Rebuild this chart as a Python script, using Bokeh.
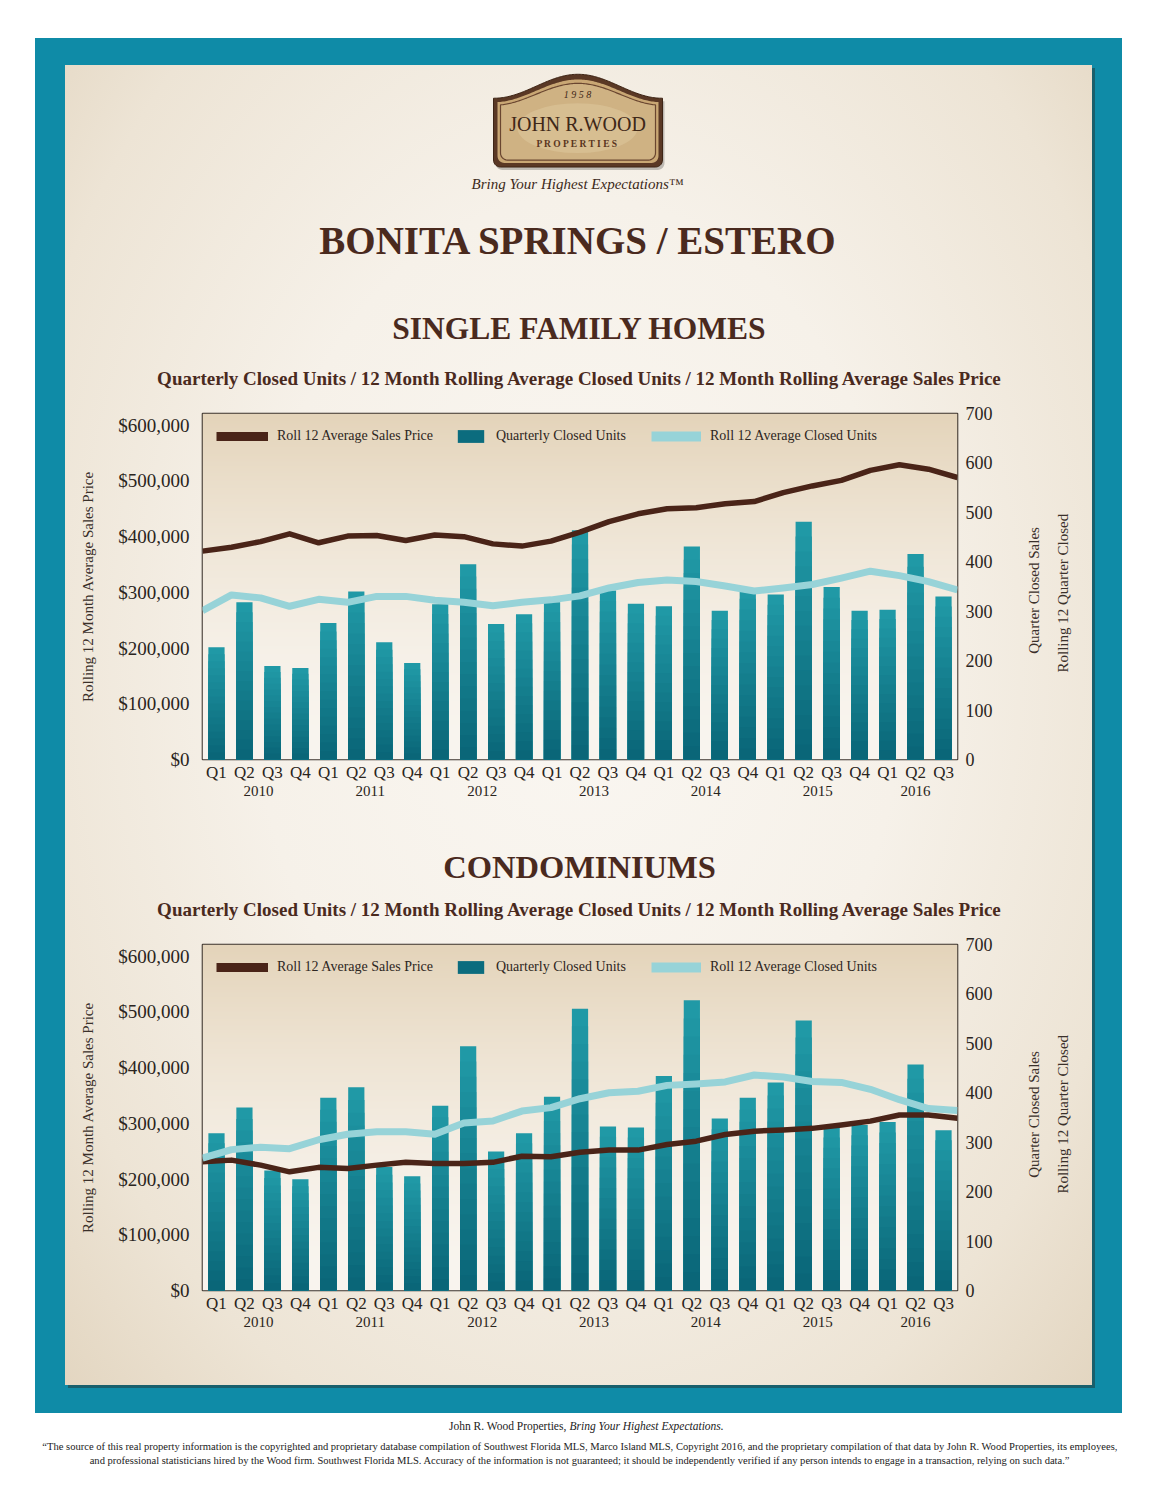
import math
import numpy as np
from bokeh.plotting import figure
from bokeh.models import (Range1d, LinearAxis, FixedTicker, NumeralTickFormatter,
                          Legend, LegendItem, ColumnDataSource, Label, Title)
from bokeh.layouts import column
from bokeh.embed import file_html
from bokeh.resources import INLINE

FONT = "Liberation Serif"
TXT_BROWN = "#4a2a1e"
LINE_BROWN = "#4a2418"
LINE_LIGHT = "#97d3d8"
TEAL_DARK = "#0b6c7e"

# ---------------- data ----------------
quarters = ["Q1", "Q2", "Q3", "Q4"] * 6 + ["Q1", "Q2", "Q3"]
years = ["2010", "2011", "2012", "2013", "2014", "2015", "2016"]
quarter_years = [y for y in years[:-1] for _ in range(4)] + ["2016"] * 3

sfh_units = [227, 318, 189, 185, 276, 340, 237, 195, 314, 395, 274, 294, 318, 464,
             342, 315, 310, 431, 301, 347, 334, 481, 349, 301, 303, 416, 330]
sfh_roll_units = [301, 333, 327, 310, 324, 318, 330, 330, 322, 318, 311, 318, 323, 331,
                  347, 358, 363, 360, 351, 341, 347, 354, 367, 381, 372, 360, 343]
sfh_price = [374000, 381000, 391000, 405000, 389000, 401000, 402000, 393000, 403000,
             400000, 387000, 383000, 392000, 408000, 427000, 441000, 450000, 452000,
             459000, 463000, 479000, 491000, 501000, 519000, 529000, 521000, 506000]

condo_units = [318, 370, 243, 225, 390, 411, 250, 231, 374, 494, 281, 318, 392, 570,
               332, 330, 434, 587, 348, 390, 421, 546, 330, 335, 341, 457, 324]
condo_roll_units = [268, 285, 290, 287, 305, 316, 321, 321, 316, 339, 343, 363, 370, 388,
                    400, 403, 415, 418, 422, 436, 432, 423, 421, 407, 386, 368, 364]
condo_price = [231000, 234000, 225000, 213000, 221000, 219000, 225000, 230000, 228000,
               228000, 230000, 241000, 240000, 248000, 252000, 252000, 262000, 268000,
               280000, 286000, 288000, 291000, 297000, 304000, 315000, 315000, 309000]

price_ticks = [0, 100000, 200000, 300000, 400000, 500000, 600000]
unit_ticks = [0, 100, 200, 300, 400, 500, 600, 700]

legend_labels = ["Roll 12 Average Sales Price", "Quarterly Closed Units",
                 "Roll 12 Average Closed Units"]
left_label = "Rolling 12 Month Average Sales Price"
right_label_1 = "Quarter Closed Sales"
right_label_2 = "Rolling 12 Quarter Closed"
subtitle = ("Quarterly Closed Units / 12 Month Rolling Average Closed Units / "
            "12 Month Rolling Average Sales Price")
disclaimer_1 = ("\u201cThe source of this real property information is the copyrighted and "
                "proprietary database compilation of Southwest Florida MLS, Marco Island MLS, "
                "Copyright 2016, and the proprietary compilation of that data by John R. Wood "
                "Properties, its employees,")
disclaimer_2 = ("and professional statisticians hired by the Wood firm. Southwest Florida "
                "MLS. Accuracy of the information is not guaranteed; it should be "
                "independently verified if any person intends to engage in a transaction, "
                "relying on such data.\u201d")

PRICE_MAX = 621000
UNITS_MAX = 700
FRAME_H = 346
PAGE_W = 1156
FRAME_L = 202
FRAME_R = 957
MB_L = FRAME_L
MB_R = PAGE_W - FRAME_R


def style_axis(ax, size):
    ax.axis_line_color = None
    ax.major_tick_line_color = None
    ax.minor_tick_line_color = None
    ax.major_tick_out = 0
    ax.major_label_text_font = FONT
    ax.major_label_text_font_size = size
    ax.major_label_text_color = "#2a2420"
    ax.axis_label_text_font = FONT
    ax.axis_label_text_font_size = "15px"
    ax.axis_label_text_font_style = "normal"
    ax.axis_label_text_color = "#3a302a"


def label_axis(label, anchor, standoff):
    # right axis whose single rotated tick label reads upward (title of the axis)
    ax = LinearAxis(y_range_name="units", ticker=FixedTicker(ticks=[anchor]),
                    major_label_overrides={anchor: label})
    style_axis(ax, "15px")
    ax.major_label_text_color = "#3a302a"
    ax.major_label_orientation = math.pi / 2
    ax.major_label_standoff = standoff
    return ax


def make_chart(units, roll, price, top_b, bot_b, lab_pos):
    n = len(units)
    p = figure(width=PAGE_W, height=top_b + FRAME_H + bot_b,
               x_range=Range1d(0, n), y_range=Range1d(0, PRICE_MAX),
               x_axis_type=None, y_axis_type=None, toolbar_location=None,
               output_backend="svg",
               min_border_left=MB_L, min_border_right=MB_R,
               min_border_top=top_b, min_border_bottom=bot_b,
               border_fill_color=None, background_fill_color=None,
               outline_line_color="#3a322c", outline_line_width=1.6)
    p.extra_y_ranges = {"units": Range1d(0, UNITS_MAX)}

    # frame background gradient (decoration)
    N = 200
    t = np.linspace(0, 1, N) ** 1.7
    bot = np.array([249, 245, 239.0])
    top = np.array([228, 212, 186.0])
    cols = bot[None, :] * (1 - t[:, None]) + top[None, :] * t[:, None]
    img = np.zeros((N, 2, 4), dtype=np.uint8)
    img[:, :, :3] = cols[:, None, :].astype(np.uint8)
    img[:, :, 3] = 255
    p.image_rgba(image=[img.view(np.uint32).reshape(N, 2)], x=0, y=0,
                 dw=n, dh=PRICE_MAX, level="image")

    # bars with vertical shading (light top, dark bottom)
    K = 16
    light = (32, 153, 166)
    dark = (10, 102, 120)
    xs, tops, colors = [], [], []
    for j in range(K):
        f = j / (K - 1)
        c = tuple(int(round(light[k] * (1 - f) + dark[k] * f)) for k in range(3))
        hexc = "#%02x%02x%02x" % c
        for i, v in enumerate(units):
            xs.append(i + 0.5)
            tops.append(v * (1 - j / K))
            colors.append(hexc)
    src = ColumnDataSource(dict(x=xs, top=tops, color=colors))
    p.vbar(x="x", top="top", bottom=0, width=0.58, fill_color="color",
           line_color=None, source=src, y_range_name="units")

    # lines (secondary category positions run edge to edge)
    lx = [i * n / (n - 1) for i in range(n)]
    p.line(lx, price, line_color=LINE_BROWN, line_width=5.5, line_join="round")
    p.line(lx, roll, line_color=LINE_LIGHT, line_width=7, line_join="round",
           y_range_name="units")

    # axes
    yl = LinearAxis(ticker=FixedTicker(ticks=price_ticks),
                    formatter=NumeralTickFormatter(format="$0,0"),
                    axis_label=left_label)
    style_axis(yl, "19px")
    yl.major_label_standoff = 13
    yl.axis_label_standoff = 19
    p.add_layout(yl, "left")

    yr = LinearAxis(y_range_name="units", ticker=FixedTicker(ticks=unit_ticks))
    style_axis(yr, "18px")
    yr.major_label_standoff = 8
    p.add_layout(yr, "right")

    p.add_layout(label_axis(right_label_1, lab_pos[0], 39), "right")
    p.add_layout(label_axis(right_label_2, lab_pos[1], 10), "right")

    qticks = [i + 0.5 for i in range(n)]
    xq = LinearAxis(ticker=FixedTicker(ticks=qticks),
                    major_label_overrides={t_: q for t_, q in zip(qticks, quarters)})
    style_axis(xq, "17px")
    xq.major_label_standoff = 3
    p.add_layout(xq, "below")

    ypos = {}
    for i, y in enumerate(quarter_years):
        ypos.setdefault(y, []).append(i + 0.5)
    yticks = [sum(v) / len(v) for v in ypos.values()]
    xy = LinearAxis(ticker=FixedTicker(ticks=yticks),
                    major_label_overrides={t_: y for t_, y in zip(yticks, ypos.keys())})
    style_axis(xy, "15px")
    xy.major_label_standoff = 1
    p.add_layout(xy, "below")

    # legend swatches (invisible stand-in renderers)
    nan = [float("nan")]
    lb = p.line(x=nan, y=nan, line_color=LINE_BROWN, line_width=9)
    lt = p.vbar(x=nan, top=nan, width=0.5, fill_color=TEAL_DARK, line_color=None)
    ll = p.line(x=nan, y=nan, line_color=LINE_LIGHT, line_width=10)
    for lab, r, x0, gw, gh in [(legend_labels[0], lb, 14, 52, 16),
                               (legend_labels[1], lt, 252, 33, 16),
                               (legend_labels[2], ll, 449, 50, 16)]:
        leg = Legend(items=[LegendItem(label=lab, renderers=[r])],
                     location=(x0, FRAME_H - 13 - 20), orientation="horizontal",
                     padding=0, margin=0, spacing=0, glyph_width=gw, glyph_height=gh,
                     label_standoff=9, label_height=20, label_text_font=FONT,
                     label_text_font_size="14px", label_text_color="#2d2622",
                     background_fill_alpha=0, border_line_alpha=0)
        p.add_layout(leg)
    return p


def deco(y0, height, bottom_border=0):
    fh = height - bottom_border
    p = figure(width=PAGE_W, height=height, x_range=Range1d(FRAME_L, FRAME_R),
               y_range=Range1d(y0 + fh, y0), x_axis_type=None, y_axis_type=None,
               toolbar_location=None, output_backend="svg",
               min_border_left=MB_L, min_border_right=MB_R,
               min_border_top=0, min_border_bottom=bottom_border,
               outline_line_color=None, border_fill_color=None,
               background_fill_color=None)
    return p


def txt(p, x, y, s, size, color=TXT_BROWN, style="normal", align="center"):
    p.add_layout(Label(x=x, y=y, text=s, text_font=FONT, text_font_size=size,
                       text_font_style=style, text_color=color, text_align=align,
                       text_baseline="middle"))


def wide_txt(p, s, size, color, style, standoff):
    p.add_layout(Title(text=s, align="center", vertical_align="middle",
                       text_font=FONT, text_font_size=size, text_font_style=style,
                       text_color=color, standoff=standoff), "below")


def plaque(d):
    xs = np.linspace(493 + d, 662 - d, 120)
    base = 98 + d
    rise = 24 - d * 0.3
    dd = np.clip(np.abs(xs - 577.5) / 84.0, 0, 1)
    ytop = base - rise * (0.5 + 0.5 * np.cos(np.pi * dd))
    bottom = 167 - d
    r = 7
    ang = np.linspace(0, np.pi / 2, 8)
    right_corner_x = list((662 - d - r) + r * np.cos(ang))
    right_corner_y = list((bottom - r) + r * np.sin(ang))
    left_corner_x = list((493 + d + r) - r * np.sin(ang))
    left_corner_y = list((bottom - r) + r * np.cos(ang))
    px = list(xs) + right_corner_x + left_corner_x
    py = list(ytop) + right_corner_y + left_corner_y
    return px, py


# ---------------- header ----------------
head = deco(0, 401, 46)
sx, sy = plaque(0)
head.patch([x + 2 for x in sx], [y + 3 for y in sy], fill_color="#000000",
           fill_alpha=0.22, line_color=None)
head.patch(sx, sy, fill_color="#5a3825", line_color="#3e2516", line_width=1)
ax_, ay_ = plaque(4)
head.patch(ax_, ay_, fill_color="#c9a774", line_color=None)
bx_, by_ = plaque(7)
head.patch(bx_, by_, fill_color="#cfb283", line_color="#6a4630", line_width=1.2)
head.ellipse(x=[577], y=[128], width=120, height=50, fill_color="#e0cba2",
             fill_alpha=0.45, line_color=None)
txt(head, 577, 94, "1 9 5 8", "10px", "#3f2818", "italic")
txt(head, 577, 124, "JOHN R.WOOD", "20px", "#3f2818")
txt(head, 577, 144, "P R O P E R T I E S", "9.5px", "#5a3520", "bold")
txt(head, 577, 184, "Bring Your Highest Expectations\u2122", "15px", "#3d2a20", "italic")
txt(head, 578, 241, "BONITA SPRINGS / ESTERO", "39px", TXT_BROWN, "bold")
txt(head, 579, 329, "SINGLE FAMILY HOMES", "31.5px", TXT_BROWN, "bold")
wide_txt(head, subtitle, "19px", TXT_BROWN, "bold", 24)

chart1 = make_chart(sfh_units, sfh_roll_units, sfh_price, 12, 46, (214, 176))

mid = deco(805, 127, 46)
txt(mid, 579, 867, "CONDOMINIUMS", "32.5px", TXT_BROWN, "bold")
wide_txt(mid, subtitle, "19px", TXT_BROWN, "bold", 24)

chart2 = make_chart(condo_units, condo_roll_units, condo_price, 12, 48, (228, 196))

foot = deco(1338, 158, 58)
txt(foot, 566, 1425, "John R. Wood Properties,", "11.5px", "#222222", "normal", "right")
txt(foot, 569, 1425, "Bring Your Highest Expectations.", "11.5px", "#222222", "italic", "left")
wide_txt(foot, disclaimer_1, "10.55px", "#222222", "normal", 2)
wide_txt(foot, disclaimer_2, "10.55px", "#222222", "normal", 1)

styles = {
    "background-color": "#ffffff",
    "background-image": ("radial-gradient(ellipse at 50% 45%, #faf7f2 0%, #f6f1e9 45%, "
                         "#ede4d5 80%, #e3d6c1 100%), "
                         "linear-gradient(rgba(40,30,20,0.40), rgba(40,30,20,0.40)), "
                         "linear-gradient(#0f8ba7, #0f8ba7)"),
    "background-position": "65px 65px, 68px 68px, 35px 38px",
    "background-size": "1027px 1320px, 1027px 1320px, 1087px 1375px",
    "background-repeat": "no-repeat",
}

layout = column(head, chart1, mid, chart2, foot, spacing=0, styles=styles)

open("out.html", "w").write(file_html(layout, INLINE))
